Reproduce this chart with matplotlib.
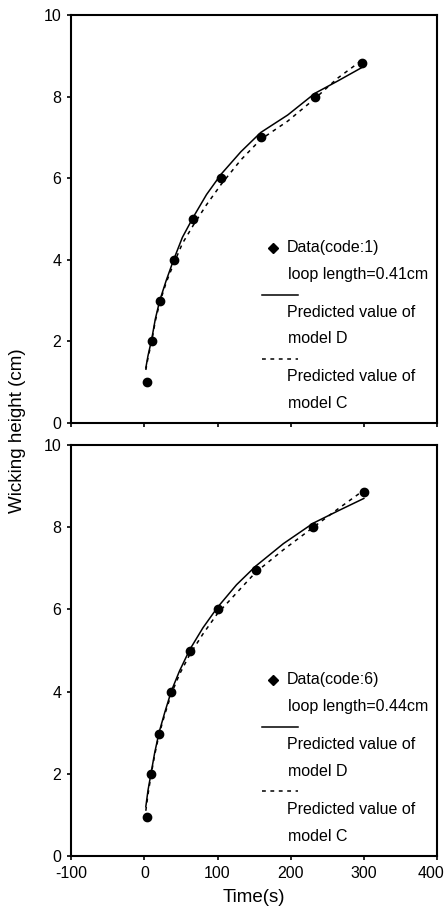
import matplotlib
import matplotlib.pyplot as plt
from matplotlib.lines import Line2D
import matplotlib.transforms as mtransforms

matplotlib.use('Agg')

plt.rcParams['font.family'] = ['Liberation Sans', 'DejaVu Sans']
plt.rcParams['axes.unicode_minus'] = False

# Donnees (code 1 en haut, code 6 en bas)
t_code1 = [4, 10, 21, 40, 67, 105, 159, 233, 298]
h_code1 = [1.0, 2.0, 3.0, 4.0, 5.0, 6.0, 7.0, 8.0, 8.83]
t_model1 = [2, 5, 10, 15, 21, 30, 40, 52, 67, 85, 105, 132, 159, 196, 233, 264, 298]
model_d1 = [1.35, 1.65, 2.05, 2.55, 3.0, 3.5, 4.0, 4.55, 5.05, 5.6, 6.1, 6.65, 7.12, 7.55, 8.08, 8.38, 8.72]
model_c1 = [1.3, 1.6, 2.0, 2.5, 2.95, 3.45, 3.9, 4.4, 4.85, 5.35, 5.85, 6.45, 6.95, 7.4, 7.95, 8.45, 8.9]

t_code6 = [4, 9, 20, 37, 62, 100, 152, 231, 300]
h_code6 = [0.96, 2.0, 2.97, 4.0, 4.98, 6.0, 6.97, 8.0, 8.85]
t_model6 = [2, 5, 9, 14, 20, 28, 37, 48, 62, 80, 100, 126, 152, 190, 231, 265, 300]
model_d6 = [1.2, 1.6, 2.0, 2.5, 3.0, 3.5, 4.02, 4.5, 5.02, 5.55, 6.05, 6.6, 7.05, 7.6, 8.1, 8.4, 8.7]
model_c6 = [1.1, 1.5, 1.95, 2.45, 2.95, 3.45, 3.95, 4.42, 4.9, 5.4, 5.9, 6.4, 6.9, 7.45, 8.0, 8.45, 8.9]

y_ticks = [0, 2, 4, 6, 8, 10]
x_ticks = [-100, 0, 100, 200, 300, 400]

fig = plt.figure(figsize=(4.45, 9.11), dpi=100)
ax1 = fig.add_axes([0.160, 0.5357, 0.822, 0.4478])
ax2 = fig.add_axes([0.160, 0.0604, 0.822, 0.4511])


def draw_panel(ax, t, h, tm, d, c, code, loop, show_x):
    ax.plot(tm, d, color='black', lw=1.1, zorder=2)
    ax.plot(tm, c, color='black', lw=1.1, ls=(0, (2.5, 3)), zorder=2)
    ax.plot(t, h, 'o', color='black', ms=6, zorder=3)

    ax.set_xlim(-100, 400)
    ax.set_ylim(0, 10)
    ax.set_yticks(y_ticks)
    ax.set_xticks(x_ticks)
    ax.tick_params(direction='out', length=3, width=1.2, labelsize=11.5, pad=4)
    if not show_x:
        ax.tick_params(labelbottom=False)
    for s in ax.spines.values():
        s.set_linewidth(1.5)

    # legende dessinee a la main (comme sur l'original)
    tr = ax.transAxes
    ax.add_line(Line2D([0.553], [0.429], marker='D', color='black', ms=5, transform=tr))
    ax.text(0.589, 0.429, 'Data(code:%d)' % code, transform=tr, fontsize=11.5, va='center')
    ax.text(0.592, 0.363, 'loop length=%.2fcm' % loop, transform=tr, fontsize=11.5, va='center')
    ax.add_line(Line2D([0.522, 0.62], [0.313], color='black', lw=1.1, transform=tr))
    ax.text(0.589, 0.272, 'Predicted value of', transform=tr, fontsize=11.5, va='center')
    ax.text(0.592, 0.206, 'model D', transform=tr, fontsize=11.5, va='center')
    ax.add_line(Line2D([0.522, 0.62], [0.157], color='black', lw=1.1, ls=(0, (2.5, 3)), transform=tr))
    ax.text(0.589, 0.113, 'Predicted value of', transform=tr, fontsize=11.5, va='center')
    ax.text(0.592, 0.048, 'model C', transform=tr, fontsize=11.5, va='center')


draw_panel(ax1, t_code1, h_code1, t_model1, model_d1, model_c1, 1, 0.41, False)
draw_panel(ax2, t_code6, h_code6, t_model6, model_d6, model_c6, 6, 0.44, True)

# le dernier label (400) est decale a gauche pour rester dans l'image
last = ax2.get_xticklabels()[-1]
last.set_transform(last.get_transform() + mtransforms.ScaledTranslation(-6 / 100, 0, fig.dpi_scale_trans))

ax2.set_xlabel('Time(s)', fontsize=13.5, labelpad=6)
fig.text(0.04, 0.527, 'Wicking height (cm)', rotation=90, fontsize=13.5,
         ha='center', va='center')

plt.savefig('out.png', dpi=100)
plt.close()
